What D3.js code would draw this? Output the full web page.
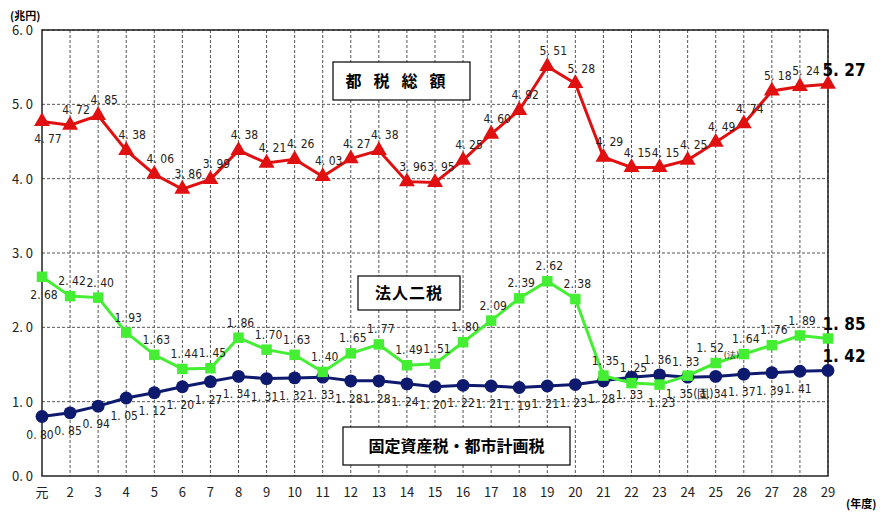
<!DOCTYPE html>
<html lang="ja">
<head>
<meta charset="utf-8">
<script src="https://cdn.jsdelivr.net/npm/d3@7"></script>
<style>
body { margin:0; background:#fff; }
text { font-family: "Noto Sans CJK JP", "DejaVu Sans", sans-serif; }
.lbl { font-size:12px; fill:#222; font-family: "DejaVu Sans Condensed", "Liberation Sans Narrow", "Liberation Sans", sans-serif; }
.tick { font-size:13px; fill:#222; }
</style>
</head>
<body>
<script>
// categories (年度)
var years = ["元","2","3","4","5","6","7","8","9","10","11","12","13","14","15","16","17","18","19","20","21","22","23","24","25","26","27","28","29"];
var yTicks = [0, 1, 2, 3, 4, 5, 6];
// series (兆円)
var total = [4.77,4.72,4.85,4.38,4.06,3.86,3.99,4.38,4.21,4.26,4.03,4.27,4.38,3.96,3.95,4.25,4.60,4.92,5.51,5.28,4.29,4.15,4.15,4.25,4.49,4.74,5.18,5.24,5.27];
var corp = [2.68,2.42,2.40,1.93,1.63,1.44,1.45,1.86,1.70,1.63,1.40,1.65,1.77,1.49,1.51,1.80,2.09,2.39,2.62,2.38,1.35,1.25,1.23,1.35,1.52,1.64,1.76,1.89,1.85];
var prop = [0.80,0.85,0.94,1.05,1.12,1.20,1.27,1.34,1.31,1.32,1.33,1.28,1.28,1.24,1.20,1.22,1.21,1.19,1.21,1.23,1.28,1.33,1.36,1.33,1.34,1.37,1.39,1.41,1.42];

var w = 886, h = 518;
var svg = d3.select("body").append("svg").attr("width", w).attr("height", h);

var x = d3.scalePoint().domain(years).range([42, 828]);
var y = d3.scaleLinear().domain([0, 6]).range([476, 30]);

// grid
svg.selectAll(".hg").data(yTicks.slice(1)).enter().append("line")
  .attr("x1", 42).attr("x2", 828).attr("y1", d => y(d)).attr("y2", d => y(d))
  .attr("stroke", "#555").attr("stroke-dasharray", "3,2");
svg.selectAll(".vg").data(years.slice(1)).enter().append("line")
  .attr("x1", d => x(d)).attr("x2", d => x(d)).attr("y1", 30).attr("y2", 476)
  .attr("stroke", "#555").attr("stroke-dasharray", "3,2");
svg.append("rect").attr("x", 42).attr("y", 30).attr("width", 786).attr("height", 446)
  .attr("fill", "none").attr("stroke", "#222").attr("stroke-width", 1.5);

// axes labels
svg.selectAll(".yt").data(yTicks).enter().append("text").attr("class", "tick")
  .attr("x", 33).attr("y", d => y(d) + 5).attr("text-anchor", "end")
  .text(d => d.toFixed(1).replace(".", ". "));
svg.selectAll(".xt").data(years).enter().append("text").attr("class", "tick")
  .attr("x", d => x(d)).attr("y", 497).attr("text-anchor", "middle").text(d => d);
svg.append("text").attr("x", 10).attr("y", 20).style("font-size", "11px").style("font-weight", "bold").text("(兆円)");
svg.append("text").attr("x", 846).attr("y", 508).style("font-size", "11px").style("font-weight", "bold").text("(年度)");

function fmt(v) { return v.toFixed(2).replace(".", ". "); }

function series(data, color, shape) {
  var line = d3.line().x((d, i) => x(years[i])).y(d => y(d));
  svg.append("path").datum(data).attr("d", line).attr("fill", "none")
    .attr("stroke", color).attr("stroke-width", 3);
  svg.selectAll(null).data(data).enter().append("path")
    .attr("transform", (d, i) => "translate(" + x(years[i]) + "," + y(d) + ")")
    .attr("d", d3.symbol().type(shape).size(shape === d3.symbolCircle ? 130 : 110))
    .attr("fill", color);
}
series(prop, "#0d1a6e", d3.symbolCircle);
series(corp, "#44ee33", d3.symbolSquare);
series(total, "#e01010", d3.symbolTriangle);

function labels(data, below, dx, suffix) {
  data.forEach(function(v, i) {
    var last = i === data.length - 1;
    var t = svg.append("text").attr("class", "lbl")
      .attr("x", x(years[i]) + (last ? 16 : dx))
      .attr("y", y(v) + (below[i] ? 22 : -11))
      .attr("text-anchor", "middle")
      .text(fmt(v));
    if (suffix[i]) t.append("tspan").style("font-size", suffix[i].sz).attr("dy", suffix[i].dy).text(suffix[i].s);
    if (last) t.style("font-size", "17px").style("font-weight", "bold").style("fill", "#000")
      .attr("y", y(v) - 8);
  });
}
labels(total, total.map((d, i) => i === 0), 6, {});
labels(corp, corp.map((d, i) => i === 0 || i === 22 || i === 23), 2,
  {23: {s: "(固)", sz: "12px", dy: 0}, 24: {s: "(法)", sz: "9px", dy: 6}});
labels(prop, prop.map((d, i) => !(i === 22 || i === 23 || i === 29)), -2, {});

// series boxes
function box(x0, y0, bw, bh, txt, ls) {
  svg.append("rect").attr("x", x0).attr("y", y0).attr("width", bw).attr("height", bh)
    .attr("fill", "#fff").attr("stroke", "#000").attr("stroke-width", 1.2);
  svg.append("text").attr("x", x0 + bw / 2).attr("y", y0 + bh / 2 + 6).attr("text-anchor", "middle")
    .style("font-size", "16px").style("font-weight", "bold").style("letter-spacing", ls).text(txt);
}
box(333, 62, 137, 38, "都税総額", "12px");
box(358, 276, 102, 34, "法人二税", "1px");
box(343, 427, 227, 38, "固定資産税・都市計画税", "0px");
</script>
</body>
</html>
